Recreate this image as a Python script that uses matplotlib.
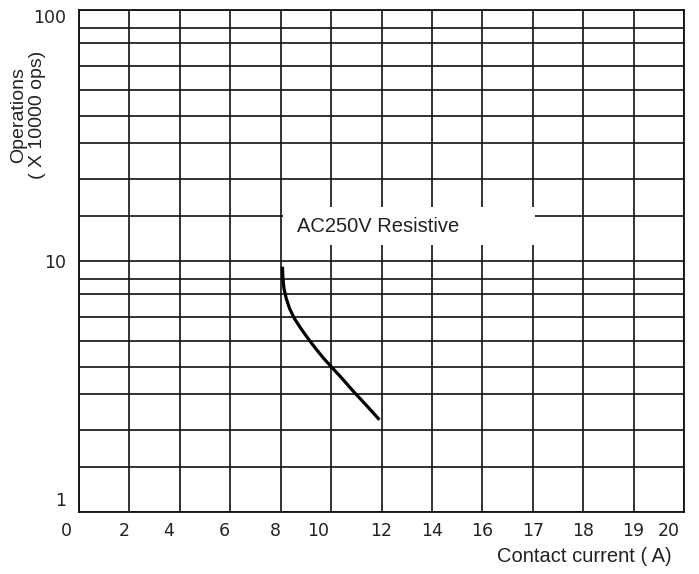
import numpy as np
import matplotlib
matplotlib.use('Agg')
import matplotlib.pyplot as plt
from matplotlib.patches import Rectangle
from matplotlib.transforms import ScaledTranslation

# curve: contact current (A) vs operations (x 10000 ops)
current = [8.07, 8.09, 8.13, 8.22, 8.35, 8.54, 8.80, 9.08, 9.38, 9.70,
           10.03, 10.43, 10.89, 11.43, 11.92]
operations = [9.49, 8.53, 7.79, 7.10, 6.48, 5.91, 5.39, 4.92, 4.49, 4.10,
              3.77, 3.41, 3.02, 2.64, 2.33]

x_ticks = [0, 2, 4, 6, 8, 10, 12, 14, 16, 17, 18, 19, 20]
y_ticks = [1, 10, 100]
# horizontal grid lines inside each decade (as drawn in the original sheet)
decade_lines = [1.51, 2.12, 2.94, 3.79, 4.79, 6.0, 7.41, 8.49]

label_text = 'AC250V Resistive'


def forward(a):
    a = np.asarray(a, dtype=float)
    return np.where(a <= 16, a / 2.0, 8.0 + (a - 16.0))


def inverse(p):
    p = np.asarray(p, dtype=float)
    return np.where(p <= 8, p * 2.0, 16.0 + (p - 8.0))


def main():
    fig = plt.figure(figsize=(6.99, 5.74), dpi=100)
    ax = fig.add_axes([79 / 699, 1 - 512 / 574, 605 / 699, 502 / 574])

    ax.set_xscale('function', functions=(forward, inverse))
    ax.set_yscale('log')
    ax.set_xlim(0, 20)
    ax.set_ylim(1, 100)

    ax.set_xticks(x_ticks)
    ax.set_xticklabels([str(t) for t in x_ticks])
    ax.set_yticks(y_ticks)
    ax.set_yticklabels([str(t) for t in y_ticks])
    minor_y = [v * d for d in (1, 10) for v in decade_lines]
    ax.set_yticks(minor_y, minor=True)
    ax.yaxis.set_minor_formatter(plt.NullFormatter())
    ax.xaxis.set_minor_locator(plt.NullLocator())

    ax.tick_params(which='both', length=0, labelsize=12.5, colors='#222222')
    ax.tick_params(axis='x', pad=7)
    ax.tick_params(axis='y', pad=9)

    ax.set_axisbelow(True)
    ax.grid(True, which='both', color='#111111', linewidth=1.2)
    for s in ax.spines.values():
        s.set_color('#111111')
        s.set_linewidth(1.3)

    # nudge the tick labels the way the original sheet has them
    x_nudge = [-9, -4, -8, -4, -4, -9, 0, 0, 0, 0, 0, 0, -11]
    for lab, dx in zip(ax.get_xticklabels(), x_nudge):
        lab.set_transform(lab.get_transform() + ScaledTranslation(dx / 72, 0, fig.dpi_scale_trans))
    y_nudge = [9, 0, -4]
    for lab, dy in zip(ax.get_yticklabels(), y_nudge):
        lab.set_transform(lab.get_transform() + ScaledTranslation(0, dy / 72, fig.dpi_scale_trans))

    # white box holding the label
    ax.add_patch(Rectangle((8.1, 11.6), 17.05 - 8.1, 16.4 - 11.6,
                           facecolor='white', edgecolor='none', zorder=1))
    ax.text(8.65, 13.7, label_text, fontsize=14.5, family='Liberation Sans',
            color='#222222', va='center', ha='left', zorder=3)

    ax.plot(current, operations, color='black', linewidth=2.3,
            solid_capstyle='butt', solid_joinstyle='round', zorder=2)

    fig.text(28 / 699, 1 - 115 / 574, 'Operations\n( X 10000 ops)', rotation=90,
             ha='center', va='center', fontsize=14, family='Liberation Sans',
             color='#222222', linespacing=1.1)
    fig.text(672 / 699, 1 - 557 / 574, 'Contact current ( A)', ha='right',
             va='center', fontsize=14.5, family='Liberation Sans', color='#222222')

    fig.savefig('out.png', dpi=100, facecolor='white')


if __name__ == '__main__':
    main()
